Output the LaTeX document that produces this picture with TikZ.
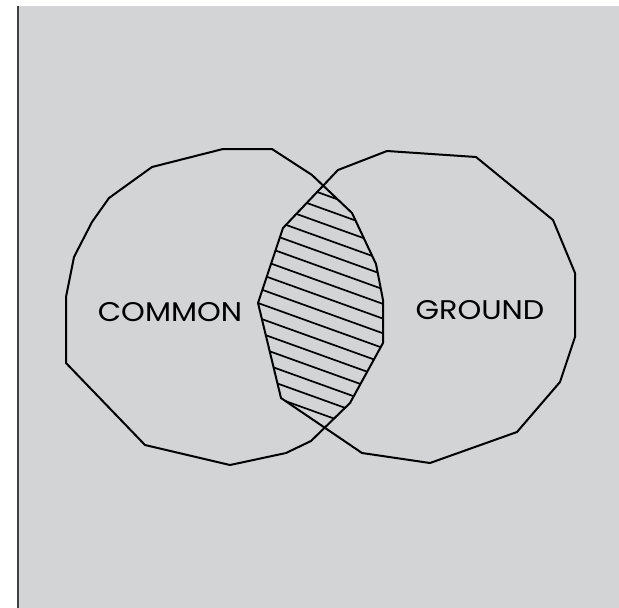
\documentclass[tikz,border=0pt]{standalone}
\usepackage{fontspec}
\setmainfont{Poppins}
\definecolor{bggray}{RGB}{211,212,214}
\tikzset{
  outline/.style={draw=black, line width=2pt, line join=round},
  hatch/.style={draw=black, line width=1.7pt},
  word/.style={font=\fontsize{27}{27}\selectfont, inner sep=0pt, text=black, xscale=1.12}
}
\begin{document}
\begin{tikzpicture}[x=1pt,y=-1pt]
\useasboundingbox (0,0) rectangle (619,608);
\fill[white] (0,0) rectangle (619,608);
\fill[bggray] (18,6) rectangle (619,608);
\draw[line width=2pt, black!75] (18,6) -- (18,608);
% lens hatching
\begin{scope}
\clip (223,149) -- (272,149) -- (312,175) -- (352,213) -- (376,264) -- (383,300) -- (383,343) -- (350,403) -- (311,441) -- (286,453) -- (230,465) -- (145,445) -- (66,363) -- (66,297) -- (74,257) -- (92,222) -- (109,198) -- (152,167) -- cycle;
\clip (387,151) -- (476,157) -- (553,220) -- (575,273) -- (575,337) -- (560,382) -- (517,432) -- (430,463) -- (362,453) -- (281,398) -- (258,303) -- (283,228) -- (338,170) -- cycle;
\foreach \k in {-10,...,8}{
  \draw[hatch] (220,{303+\k*14.7+0.36*(220-258)}) -- (420,{303+\k*14.7+0.36*(420-258)});
}
\end{scope}
% left circle
\draw[outline] (223,149) -- (272,149) -- (312,175) -- (352,213) -- (376,264) -- (383,300) -- (383,343) -- (350,403) -- (311,441) -- (286,453) -- (230,465) -- (145,445) -- (66,363) -- (66,297) -- (74,257) -- (92,222) -- (109,198) -- (152,167) -- cycle;
% right circle
\draw[outline] (387,151) -- (476,157) -- (553,220) -- (575,273) -- (575,337) -- (560,382) -- (517,432) -- (430,463) -- (362,453) -- (281,398) -- (258,303) -- (283,228) -- (338,170) -- cycle;
\node[word] (common) at (170,312) {COMMON};
\node[word] (ground) at (480,310) {GROUND};
\end{tikzpicture}
\end{document}
